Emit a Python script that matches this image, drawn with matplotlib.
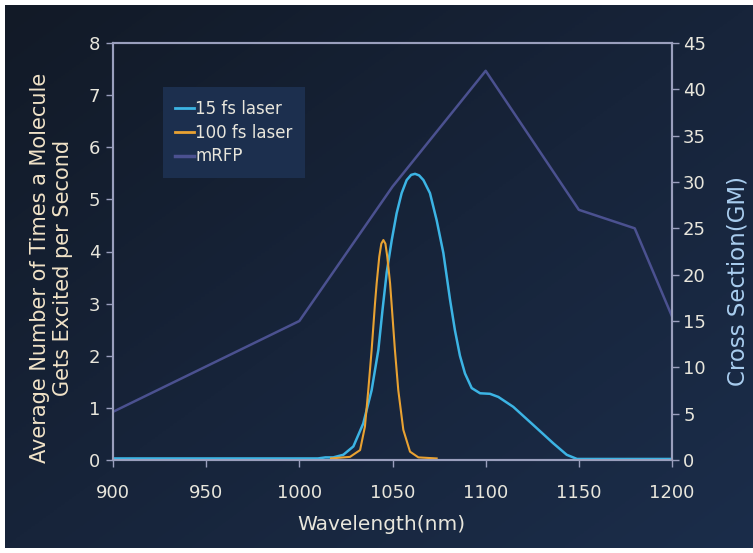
import numpy as np
import matplotlib
matplotlib.use("Agg")
import matplotlib.pyplot as plt
from matplotlib.colors import LinearSegmentedColormap
from matplotlib.lines import Line2D

# --- Data ---
wl_15fs = [900, 1010, 1014, 1018.2, 1023.6, 1029, 1034.3, 1038.8, 1042.4, 1044.7,
           1046.9, 1049.6, 1052.2, 1054.9, 1057.6, 1060, 1062.1, 1064.3, 1066.6,
           1070.1, 1073.7, 1077.3, 1080.9, 1083.5, 1086.2, 1088.9, 1092.5, 1097,
           1102.3, 1106.8, 1114.8, 1125.6, 1136.3, 1143.5, 1149, 1200]
val_15fs = [0.03, 0.03, 0.05, 0.05, 0.1, 0.26, 0.7, 1.34, 2.11, 2.9,
            3.6, 4.22, 4.73, 5.12, 5.37, 5.47, 5.49, 5.46, 5.37,
            5.12, 4.6, 3.97, 3.07, 2.49, 2.0, 1.66, 1.38, 1.28,
            1.27, 1.21, 1.02, 0.67, 0.32, 0.1, 0.02, 0.02]

wl_100fs = [1017, 1027.2, 1032.6, 1035.2, 1037, 1038.8, 1040.6, 1041.5, 1042.9,
            1044, 1045.1, 1046.2, 1047.2, 1048.7, 1049.5, 1051.3, 1053.1, 1055.8,
            1059.4, 1063.9, 1073.7]
val_100fs = [0.03, 0.06, 0.19, 0.64, 1.34, 2.11, 3.0, 3.39, 3.9,
             4.15, 4.22, 4.15, 3.9, 3.39, 3.0, 2.11, 1.34, 0.58,
             0.16, 0.05, 0.03]

wl_mrfp = [900, 1000, 1050, 1100, 1150, 1180, 1200]
gm_mrfp = [5.2, 15, 29.5, 42, 27, 25, 15.5]

x_ticks = [900, 950, 1000, 1050, 1100, 1150, 1200]

# --- Colours ---
c_cyan = "#3cb4e4"
c_orange = "#e9a232"
c_mrfp = "#4b5190"
c_spine = "#9a9fbd"
c_text = "#e8e6dc"

fig = plt.figure(figsize=(7.53, 5.53), dpi=100, facecolor="white")

# dark gradient background, darker top-left, bluer bottom-right
bg = fig.add_axes([5 / 753, 5 / 553, 748 / 753, 543 / 553], zorder=-10)
cmap = LinearSegmentedColormap.from_list("bg", ["#121a27", "#17243a", "#1b2d4a"])
gx, gy = np.meshgrid(np.linspace(0, 1, 200), np.linspace(0, 1, 200))
bg.imshow(0.5 * gx + 0.5 * gy, cmap=cmap, aspect="auto",
          extent=[0, 1, 0, 1], origin="upper")
bg.axis("off")

ax = fig.add_axes([113 / 753, 1 - 460 / 553, 559 / 753, 417 / 553])
ax.patch.set_alpha(0)
ax2 = ax.twinx()

ax.plot(wl_15fs, val_15fs, color=c_cyan, lw=1.8, zorder=3)
ax.plot(wl_100fs, val_100fs, color=c_orange, lw=1.5, zorder=4)
ax2.plot(wl_mrfp, gm_mrfp, color=c_mrfp, lw=1.8, zorder=2)

ax.set_xlim(900, 1200)
ax.set_ylim(0, 8)
ax2.set_ylim(0, 45)
ax.set_xticks(x_ticks)
ax.set_yticks(range(0, 9))
ax2.set_yticks(range(0, 46, 5))

for a in (ax, ax2):
    for s in a.spines.values():
        s.set_color(c_spine)
        s.set_linewidth(1.5)
ax.tick_params(axis="x", colors=c_spine, labelcolor=c_text, labelsize=13,
               length=5, width=1, pad=12, direction="out")
ax.tick_params(axis="y", colors=c_spine, labelcolor=c_text, labelsize=13,
               length=5, width=1, pad=4)
ax2.tick_params(axis="y", colors=c_spine, labelcolor=c_text, labelsize=13,
                length=5, width=1, pad=3)

ax.set_xlabel("Wavelength(nm)", color=c_text, fontsize=14.5)
ax.xaxis.set_label_coords(0.48, -0.133)
ax.set_ylabel("Average Number of Times a Molecule\nGets Excited per Second",
              color="#f1e3c8", fontsize=15, linespacing=1.15)
ax.yaxis.set_label_coords(-0.072, 0.46)
ax2.set_ylabel("Cross Section(GM)", color="#a9cdef", fontsize=16.5)
ax2.yaxis.set_label_coords(1.098, 0.43)

handles = [Line2D([], [], color=c_cyan, lw=2),
           Line2D([], [], color=c_orange, lw=2),
           Line2D([], [], color=c_mrfp, lw=2.5)]
leg = ax2.legend(handles, ["15 fs laser", "100 fs laser", "mRFP"],
                 loc="upper left", bbox_to_anchor=(0.089, 0.894),
                 frameon=True, fancybox=False, fontsize=12,
                 handlelength=1.1, handletextpad=0.1, borderpad=0.75,
                 labelspacing=0.35, borderaxespad=0)
leg.get_frame().set_facecolor("#1c2f4e")
leg.get_frame().set_edgecolor("none")
leg.get_frame().set_alpha(1)
for t in leg.get_texts():
    t.set_color(c_text)

fig.savefig("out.png", dpi=100, facecolor=fig.get_facecolor())
